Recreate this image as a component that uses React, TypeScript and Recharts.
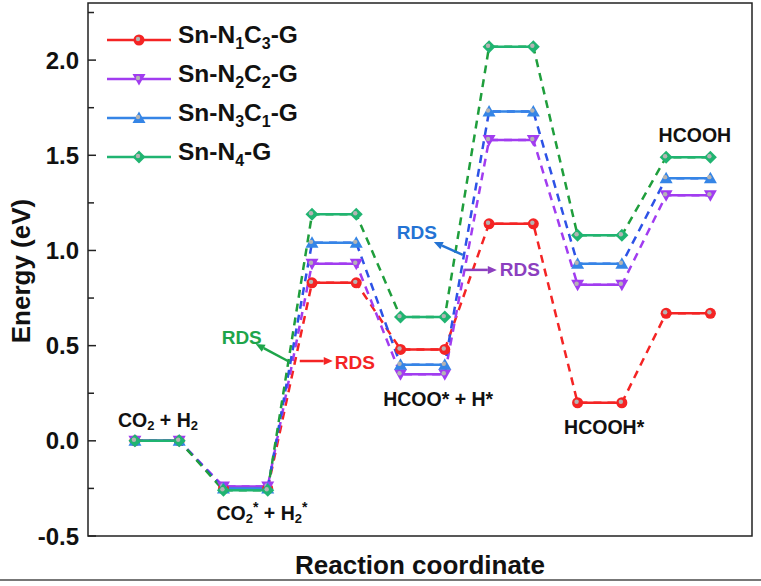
import React from "react";
import {
  LineChart, Line, XAxis, YAxis, ReferenceArea, ReferenceDot, Legend,
} from "recharts";

// reaction states, two points (left/right end of each level) per state
const states = ["CO2 + H2", "CO2* + H2*", "TS1", "HCOO* + H*", "TS2", "HCOOH*", "HCOOH"];

const snN1C3 = [0, -0.25, 0.83, 0.48, 1.14, 0.2, 0.67];
const snN2C2 = [0, -0.24, 0.93, 0.35, 1.58, 0.82, 1.29];
const snN3C1 = [0, -0.25, 1.04, 0.4, 1.73, 0.93, 1.38];
const snN4 = [0, -0.26, 1.19, 0.65, 2.07, 1.08, 1.49];

const yTicks = [-0.5, -0.25, 0, 0.25, 0.5, 0.75, 1, 1.25, 1.5, 1.75, 2, 2.25];
const majorTicks = [-0.5, 0, 0.5, 1, 1.5, 2];

const FONT = "'Liberation Sans', Arial, Helvetica, sans-serif";

type Kind = "circle" | "down" | "up" | "diamond";

const series = [
  { key: "n1c3", sub: ["1", "3"], values: snN1C3, color: "#f42424", dash: "#f42424", marker: "circle" as Kind },
  { key: "n2c2", sub: ["2", "2"], values: snN2C2, color: "#a13cf0", dash: "#a13cf0", marker: "down" as Kind },
  { key: "n3c1", sub: ["3", "1"], values: snN3C1, color: "#3585e6", dash: "#2d52e6", marker: "up" as Kind },
  { key: "n4", sub: ["4"], values: snN4, color: "#20b471", dash: "#1f9e3c", marker: "diamond" as Kind },
];

const levelRows = (vals: number[]) =>
  vals.flatMap((v, i) => [
    { x: 2 * i, e: v },
    { x: 2 * i + 1, e: v },
    { x: 2 * i + 1.5, e: null },
  ]);

const pathRows = (vals: number[]) =>
  vals.flatMap((v, i) => [
    { x: 2 * i, e: v },
    { x: 2 * i + 1, e: v },
  ]);

function Marker({ kind, cx, cy, color }: { kind: Kind; cx: number; cy: number; color: string }) {
  let shape;
  if (kind === "circle") shape = <circle cx={cx} cy={cy} r={5.5} fill={color} />;
  else if (kind === "down")
    shape = <polygon points={`${cx - 6.5},${cy - 5} ${cx + 6.5},${cy - 5} ${cx},${cy + 6.5}`} fill={color} />;
  else if (kind === "up")
    shape = <polygon points={`${cx - 6.5},${cy + 5} ${cx + 6.5},${cy + 5} ${cx},${cy - 6.5}`} fill={color} />;
  else
    shape = <polygon points={`${cx},${cy - 6.5} ${cx + 6.5},${cy} ${cx},${cy + 6.5} ${cx - 6.5},${cy}`} fill={color} />;
  return (
    <g>
      {shape}
      <circle cx={cx - 1} cy={cy - 1} r={2.2} fill="#b4b4b4" />
    </g>
  );
}

// state labels (annotation positions in data units)
const stateLabels = [
  { x: 0.52, e: 0.11, parts: [["CO", 0], ["2", 1], [" + H", 0], ["2", 1]] },
  { x: 2.87, e: -0.38, parts: [["CO", 0], ["2", 1], ["*", 2], [" + H", 0], ["2", 1], ["*", 2]] },
  { x: 6.85, e: 0.22, parts: [["HCOO* + H*", 0]] },
  { x: 10.6, e: 0.072, parts: [["HCOOH*", 0]] },
  { x: 12.65, e: 1.606, parts: [["HCOOH", 0]] },
];

// RDS call-outs, anchored on the transition lines
const rdsNotes = [
  { x: 3.52, e: 0.414, color: "#1ea54a", tail: [-1, 0], head: [-35, -18], text: [-49, -25], anchor: "middle" },
  { x: 3.52, e: 0.414, color: "#f42424", tail: [9, -1], head: [42, -1], text: [44, 0], anchor: "start" },
  { x: 7.43, e: 0.94, color: "#2473d4", tail: [-1, -7], head: [-30, -20], text: [-47, -29], anchor: "middle" },
  { x: 7.43, e: 0.94, color: "#8c3fbf", tail: [1, 8], head: [33, 8], text: [36, 8], anchor: "start" },
];

function Arrow({ x1, y1, x2, y2, color }: any) {
  const a = Math.atan2(y2 - y1, x2 - x1);
  const L = 9, W = 4;
  const bx = x2 - L * Math.cos(a), by = y2 - L * Math.sin(a);
  const px = -Math.sin(a) * W, py = Math.cos(a) * W;
  return (
    <g>
      <line x1={x1} y1={y1} x2={bx} y2={by} stroke={color} strokeWidth={2.5} />
      <polygon points={`${x2},${y2} ${bx + px},${by + py} ${bx - px},${by - py}`} fill={color} />
    </g>
  );
}

const YTick = ({ x, y, payload }: any) => {
  const v = payload.value;
  const major = majorTicks.includes(v);
  return (
    <g>
      <line x1={x} y1={y} x2={x + (major ? 8 : 6)} y2={y} stroke="#222" strokeWidth={1.5} />
      {major && (
        <text x={x - 9} y={y} textAnchor="end" dominantBaseline="central"
          fontFamily={FONT} fontWeight="bold" fontSize={24} fill="#111">
          {v.toFixed(1)}
        </text>
      )}
    </g>
  );
};

const LegendBox = () => (
  <div style={{ fontFamily: FONT, fontWeight: "bold", fontSize: 24.5, color: "#111" }}>
    {series.map((s) => (
      <div key={s.key} style={{ height: 39, display: "flex", alignItems: "center" }}>
        <svg width={64} height={20} style={{ marginRight: 7 }}>
          <line x1={0} x2={64} y1={10} y2={10} stroke={s.color} strokeWidth={2.5} />
          <Marker kind={s.marker} cx={32} cy={10} color={s.color} />
        </svg>
        <span style={{ lineHeight: "24px", whiteSpace: "nowrap" }}>
          Sn-N<sub style={{ fontSize: 16 }}>{s.sub[0]}</sub>
          {s.sub[1] && (
            <>
              C<sub style={{ fontSize: 16 }}>{s.sub[1]}</sub>
            </>
          )}
          -G
        </span>
      </div>
    ))}
  </div>
);

export default function App() {
  return (
    <div style={{ position: "absolute", left: 0, top: 0, width: 761, height: 586, background: "#fff" }}>
      <LineChart width={761} height={586} margin={{ top: 3, right: 9, left: 28, bottom: 0 }}>
        <XAxis
          type="number"
          dataKey="x"
          domain={[-1.06, 13.94]}
          allowDataOverflow
          tick={false}
          axisLine={false}
          tickLine={false}
          height={50}
          label={{
            content: () => (
              <text x={420} y={565} textAnchor="middle" dominantBaseline="central"
                fontFamily={FONT} fontWeight="bold" fontSize={26} fill="#111">
                Reaction coordinate
              </text>
            ),
          }}
        />
        <YAxis
          type="number"
          domain={[-0.5, 2.3]}
          allowDataOverflow
          ticks={yTicks}
          interval={0}
          width={60}
          tickSize={0}
          tickMargin={0}
          axisLine={false}
          tick={<YTick />}
          label={{
            content: () => (
              <text x={21} y={271} textAnchor="middle" dominantBaseline="central"
                transform="rotate(-90 21 271)"
                fontFamily={FONT} fontWeight="bold" fontSize={26} fill="#111">
                Energy (eV)
              </text>
            ),
          }}
        />
        <ReferenceArea x1={-1.06} x2={13.94} y1={-0.5} y2={2.3}
          fill="none" stroke="#222" strokeWidth={1.5} />

        {series.map((s) => (
          <Line
            key={s.key + "-path"}
            data={pathRows(s.values)}
            dataKey="e"
            type="linear"
            stroke={s.dash}
            strokeWidth={2.5}
            strokeDasharray="8 6"
            dot={false}
            activeDot={false}
            legendType="none"
            isAnimationActive={false}
          />
        ))}
        {series.map((s) => (
          <Line
            key={s.key + "-level"}
            data={levelRows(s.values)}
            dataKey="e"
            type="linear"
            stroke={s.color}
            strokeWidth={2.5}
            connectNulls={false}
            activeDot={false}
            isAnimationActive={false}
            dot={(p: any) =>
              p.cy == null || p.value == null ? (
                <g key={p.index} />
              ) : (
                <Marker key={p.index} kind={s.marker} cx={p.cx} cy={p.cy} color={s.color} />
              )
            }
          />
        ))}

        {stateLabels.map((l, i) => (
          <ReferenceDot
            key={"lbl" + i}
            x={l.x}
            y={l.e}
            shape={(p: any) => (
              <text x={p.cx} y={p.cy} textAnchor="middle" dominantBaseline="central"
                fontFamily={FONT} fontWeight="bold" fontSize={19.5} fill="#111">
                {l.parts.map(([t, k]: any, j: number) => (
                  <tspan key={j} fontSize={k === 1 ? 13 : k === 2 ? 14 : 19.5}
                    dy={j === 0 ? 0 : k === 1 ? 5 : k === 2 ? -11 : (l.parts[j - 1][1] === 1 ? -5 : 6)}>
                    {t}
                  </tspan>
                ))}
              </text>
            )}
          />
        ))}

        {rdsNotes.map((r, i) => (
          <ReferenceDot
            key={"rds" + i}
            x={r.x}
            y={r.e}
            shape={(p: any) => (
              <g>
                <Arrow x1={p.cx + r.tail[0]} y1={p.cy + r.tail[1]} x2={p.cx + r.head[0]} y2={p.cy + r.head[1]} color={r.color} />
                <text x={p.cx + r.text[0]} y={p.cy + r.text[1]} textAnchor={r.anchor as any}
                  dominantBaseline="central" fontFamily={FONT} fontWeight="bold" fontSize={19} fill={r.color}>
                  RDS
                </text>
              </g>
            )}
          />
        ))}

        <Legend
          layout="vertical"
          align="center"
          verticalAlign="middle"
          wrapperStyle={{ left: 107, top: 20, width: 280, height: 160 }}
          content={() => <LegendBox />}
        />
      </LineChart>
      <div style={{ position: "absolute", left: 0, top: 579, width: 761, height: 2, background: "#777" }} />
    </div>
  );
}
